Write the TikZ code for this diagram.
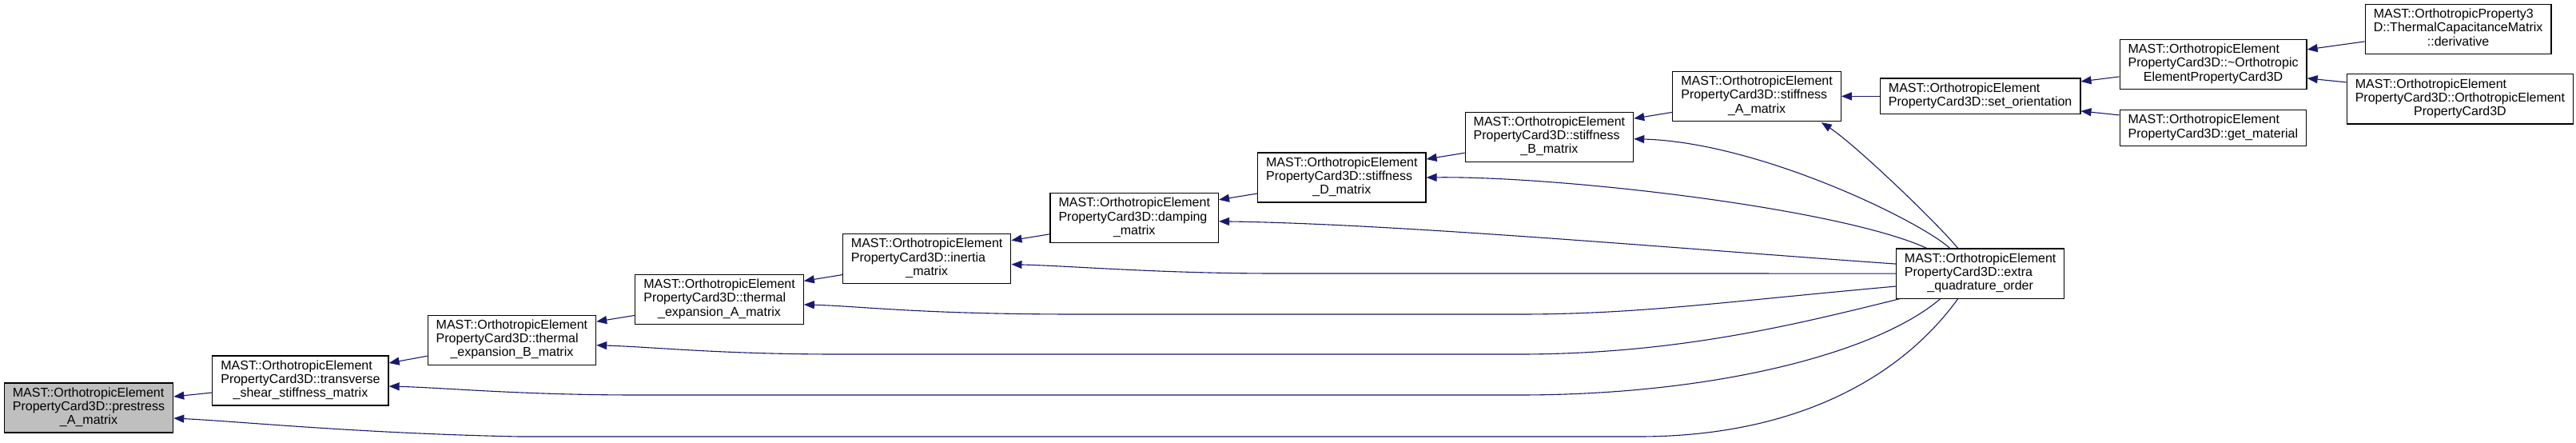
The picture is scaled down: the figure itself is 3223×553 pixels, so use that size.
\documentclass[tikz,border=0pt]{standalone}
\usepackage{fontspec}
\setmainfont{Liberation Sans}
\usepackage{xcolor}
\usepackage{tikz}
\usetikzlibrary{positioning,arrows.meta,calc}
\definecolor{edgeblue}{HTML}{191970}
\newcommand{\mlbl}[3]{\begin{tabular}{@{}l@{}}#1\\#2\\\multicolumn{1}{@{}c@{}}{#3}\end{tabular}}
\newcommand{\slbl}[2]{\begin{tabular}{@{}l@{}}#1\\\multicolumn{1}{@{}c@{}}{#2}\end{tabular}}

\begin{document}
\begin{tikzpicture}[
  x=0.5pt, y=-0.5pt,
  box/.style={draw=black, line width=0.6pt, fill=white, font=\fontsize{8}{8.65}\selectfont, inner xsep=5.25pt, inner ysep=2.55pt},
  hl/.style={box, fill=black!25},
  arr/.style={-{Triangle[length=6.5pt,width=5pt]}, draw=edgeblue, line width=0.55pt}
]
\path[use as bounding box, fill=white] (0,0) rectangle (3223,553);

\node[hl] (prestress) at (111,510) {\mlbl{MAST::OrthotropicElement}{PropertyCard3D::prestress}{\_A\_matrix}};
\node[box, right=24pt of prestress, yshift=17pt] (transverse) {\mlbl{MAST::OrthotropicElement}{PropertyCard3D::transverse}{\_shear\_stiffness\_matrix}};
\node[box, right=24pt of transverse, yshift=25.4pt] (thermalB) {\mlbl{MAST::OrthotropicElement}{PropertyCard3D::thermal}{\_expansion\_B\_matrix}};
\node[box, right=24pt of thermalB, yshift=25.4pt] (thermalA) {\mlbl{MAST::OrthotropicElement}{PropertyCard3D::thermal}{\_expansion\_A\_matrix}};
\node[box, right=24pt of thermalA, yshift=25.4pt] (inertia) {\mlbl{MAST::OrthotropicElement}{PropertyCard3D::inertia}{\_matrix}};
\node[box, right=24pt of inertia, yshift=25.4pt] (damping) {\mlbl{MAST::OrthotropicElement}{PropertyCard3D::damping}{\_matrix}};
\node[box, right=24pt of damping, yshift=25.4pt] (stiffD) {\mlbl{MAST::OrthotropicElement}{PropertyCard3D::stiffness}{\_D\_matrix}};
\node[box, right=24pt of stiffD, yshift=25.4pt] (stiffB) {\mlbl{MAST::OrthotropicElement}{PropertyCard3D::stiffness}{\_B\_matrix}};
\node[box, right=24pt of stiffB, yshift=25.4pt] (stiffA) {\mlbl{MAST::OrthotropicElement}{PropertyCard3D::stiffness}{\_A\_matrix}};
\node[box, right=24pt of stiffA] (setor) {\slbl{MAST::OrthotropicElement}{PropertyCard3D::set\_orientation}};
\node[box, below=83.5pt of setor] (extra) {\mlbl{MAST::OrthotropicElement}{PropertyCard3D::extra}{\_quadrature\_order}};
\node[box, right=24pt of setor, yshift=20pt] (tilde) {\mlbl{MAST::OrthotropicElement}{PropertyCard3D::\textasciitilde Orthotropic}{ElementPropertyCard3D}};
\node[box, right=24pt of setor, yshift=-19.75pt] (getmat) {\slbl{MAST::OrthotropicElement}{PropertyCard3D::get\_material}};
\node[box, right=36pt of tilde, yshift=22pt] (deriv) {\mlbl{MAST::OrthotropicProperty3}{D::ThermalCapacitanceMatrix}{::derivative}};
\node[box, right=24.5pt of tilde, yshift=-21.75pt] (ctor) {\mlbl{MAST::OrthotropicElement}{PropertyCard3D::OrthotropicElement}{PropertyCard3D}};

% chain of callers
\draw[arr] ($(transverse.west)+(0,15)$) -- ($(prestress.east)+(0,-14)$);
\draw[arr] ($(thermalB.west)+(0,20)$) -- ($(transverse.east)+(0,-22)$);
\draw[arr] ($(thermalA.west)+(0,20)$) -- ($(thermalB.east)+(0,-23)$);
\draw[arr] ($(inertia.west)+(0,20)$) -- ($(thermalA.east)+(0,-23)$);
\draw[arr] ($(damping.west)+(0,20)$) -- ($(inertia.east)+(0,-23)$);
\draw[arr] ($(stiffD.west)+(0,20)$) -- ($(damping.east)+(0,-23)$);
\draw[arr] ($(stiffB.west)+(0,20)$) -- ($(stiffD.east)+(0,-23)$);
\draw[arr] ($(stiffA.west)+(0,20)$) -- ($(stiffB.east)+(0,-23)$);
\draw[arr] (setor.west) -- (stiffA.east);
\draw[arr] ($(tilde.west)+(0,15.5)$) -- ($(setor.east)+(0,-18.5)$);
\draw[arr] ($(getmat.west)+(0,-16)$) -- ($(setor.east)+(0,18.5)$);
\draw[arr] ($(deriv.west)+(0,15.5)$) -- ($(tilde.east)+(0,-18.5)$);
\draw[arr] ($(ctor.west)+(0,-21)$) -- ($(tilde.east)+(0,17.5)$);

% extra_quadrature_order fans out
\draw[arr] ($(extra.north)+(-28,0)$) .. controls (2420,275) and (2320,180) .. ($(stiffA.south east)+(-25,1)$);
\draw[arr] ($(extra.north)+(-38,0)$) .. controls (2400,275) and (2200,178) .. ($(stiffB.east)+(0,2.5)$);
\draw[arr] ($(extra.north)+(-67,0)$) .. controls (2300,260) and (1950,220) .. (stiffD.east);
\draw[arr] ($(extra.west)+(0,-12)$) .. controls (2100,311) and (1750,280) .. ($(damping.east)+(0,4)$);
\draw[arr] (extra.west) -- (1600,342) .. controls (1450,342) and (1350,333) .. ($(inertia.east)+(0,7)$);
\draw[arr] ($(extra.west)+(0,16)$) .. controls (2150,378) and (2050,393) .. (1900,393) -- (1350,393) .. controls (1150,393) and (1080,383) .. ($(thermalA.east)+(0,6.5)$);
\draw[arr] ($(extra.south west)+(5,0)$) .. controls (2250,405) and (2100,443) .. (1900,443) -- (1050,443) .. controls (900,443) and (820,434) .. ($(thermalB.east)+(0,6.5)$);
\draw[arr] ($(extra.south)+(-50,0)$) .. controls (2350,440) and (2150,494) .. (1900,494) -- (800,494) .. controls (650,494) and (560,485) .. ($(transverse.east)+(0,7)$);
\draw[arr] ($(extra.south)+(-28,0)$) .. controls (2380,470) and (2250,546) .. (2050,546) -- (650,546) .. controls (450,542) and (300,527) .. ($(prestress.east)+(0,13)$);
\end{tikzpicture}
\end{document}
